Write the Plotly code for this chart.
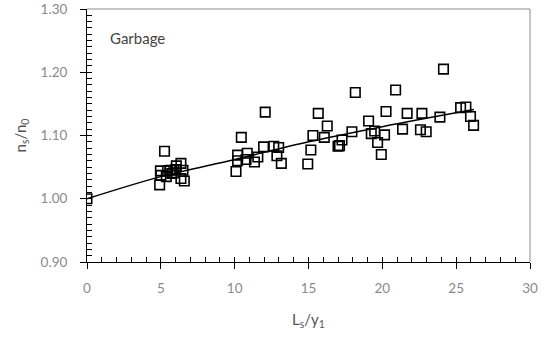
import plotly.graph_objects as go

# Measured points (Ls/y1, ns/n0)
ls_y1 = [0, 4.92, 5.25, 4.97, 5.0, 5.37, 5.46, 5.64, 5.87, 6.05, 6.36, 6.5, 6.36, 6.59, 5.75, 6.0,
         10.09, 10.2, 10.2, 10.45, 10.85, 10.77, 11.34, 11.57, 11.96, 12.07, 12.65, 12.98, 12.86, 13.16,
         14.95, 15.16, 15.3, 15.66, 16.27, 16.07, 17.0, 17.1, 17.27, 17.94, 18.17, 19.07, 19.25, 19.48,
         19.68, 19.93, 20.15, 20.25, 20.9, 21.37, 21.68, 22.58, 22.68, 22.97, 23.9, 24.14, 25.3, 25.66,
         25.97, 26.18]
ns_n0 = [1.000, 1.022, 1.075, 1.044, 1.037, 1.035, 1.044, 1.045, 1.041, 1.052, 1.056, 1.045, 1.032, 1.028, 1.040, 1.046,
         1.043, 1.069, 1.060, 1.097, 1.072, 1.062, 1.058, 1.066, 1.082, 1.137, 1.083, 1.081, 1.068, 1.056,
         1.055, 1.077, 1.100, 1.135, 1.115, 1.097, 1.083, 1.084, 1.093, 1.106, 1.168, 1.123, 1.103, 1.107,
         1.089, 1.070, 1.101, 1.138, 1.172, 1.110, 1.135, 1.109, 1.135, 1.106, 1.129, 1.205, 1.144, 1.145,
         1.130, 1.116]

# Fitted trend line
fit_x = [0, 5, 10, 15, 20, 26.2]
fit_y = [1.0, 1.035, 1.062, 1.090, 1.114, 1.141]

x_range = [0, 30]
y_range = [0.90, 1.30]
x_ticks = [0, 5, 10, 15, 20, 25, 30]
y_ticks = [0.90, 1.00, 1.10, 1.20, 1.30]

FONT = "Lato, 'Open Sans', sans-serif"
TICK_COLOR = "#8a8a8a"

fig = go.Figure()
fig.add_trace(go.Scatter(x=fit_x, y=fit_y, mode="lines",
                         line=dict(color="black", width=1.5, shape="spline"),
                         showlegend=False, hoverinfo="skip"))
fig.add_trace(go.Scatter(x=ls_y1, y=ns_n0, mode="markers",
                         marker=dict(symbol="square-open", size=9.5, color="black",
                                     line=dict(width=1.6, color="black")),
                         showlegend=False))
# invisible anchor trace so the minor-tick overlay axes are drawn
fig.add_trace(go.Scatter(x=x_range, y=y_range, xaxis="x2", yaxis="y2", mode="markers",
                         marker=dict(opacity=0, size=1), showlegend=False, hoverinfo="skip"))

fig.update_layout(
    width=543, height=338,
    margin=dict(l=87, r=13, t=9, b=76),
    plot_bgcolor="white", paper_bgcolor="white",
    font=dict(family=FONT, color=TICK_COLOR, size=13),
    xaxis=dict(range=x_range, tickvals=x_ticks, ticktext=[str(v) for v in x_ticks],
               ticks="outside", ticklen=6, tickcolor="black", tickwidth=1,
               showline=True, linecolor="black", linewidth=1, showgrid=False, zeroline=False,
               ticklabelstandoff=8, automargin=False, ticklabeloverflow="allow",
               tickfont=dict(family=FONT, size=13.5, color=TICK_COLOR),
               title=dict(text="L<sub>s</sub>/y<sub>1</sub>", font=dict(family=FONT, size=15, color="#555555"),
                          standoff=19)),
    yaxis=dict(range=y_range, tickvals=y_ticks, ticktext=[f"{v:.2f}" for v in y_ticks],
               ticks="outside", ticklen=6, tickcolor="black", tickwidth=1,
               showline=True, linecolor="black", linewidth=1, showgrid=False, zeroline=False,
               ticklabelstandoff=10, automargin=False, ticklabeloverflow="allow",
               tickfont=dict(family=FONT, size=13.5, color=TICK_COLOR),
               title=dict(text="n<sub>s</sub>/n<sub>0</sub>", font=dict(family=FONT, size=15, color="#555555"),
                          standoff=10)),
    xaxis2=dict(overlaying="x", anchor="y", side="bottom", range=x_range, dtick=1, tick0=0,
                ticks="inside", ticklen=5, tickcolor="black", tickwidth=1, automargin=False,
                showticklabels=False, showline=False, showgrid=False, zeroline=False),
    yaxis2=dict(overlaying="y", anchor="x", side="left", range=y_range, dtick=0.01, tick0=0.9,
                ticks="inside", ticklen=5, tickcolor="black", tickwidth=1, automargin=False,
                showticklabels=False, showline=False, showgrid=False, zeroline=False),
    shapes=[
        dict(type="line", xref="paper", yref="paper", x0=0, x1=1, y0=1, y1=1,
             line=dict(color="#8c8c8c", width=1)),
        dict(type="line", xref="paper", yref="paper", x0=1, x1=1, y0=0, y1=1,
             line=dict(color="#8c8c8c", width=1)),
    ],
    annotations=[dict(text="Garbage", xref="paper", yref="paper", x=0.047, y=0.886,
                      xanchor="left", yanchor="middle", showarrow=False,
                      font=dict(family=FONT, size=15, color="#444444"))],
)

fig.write_html("out.html", config={"displayModeBar": False},
               post_script="document.body.style.margin='0px';")
